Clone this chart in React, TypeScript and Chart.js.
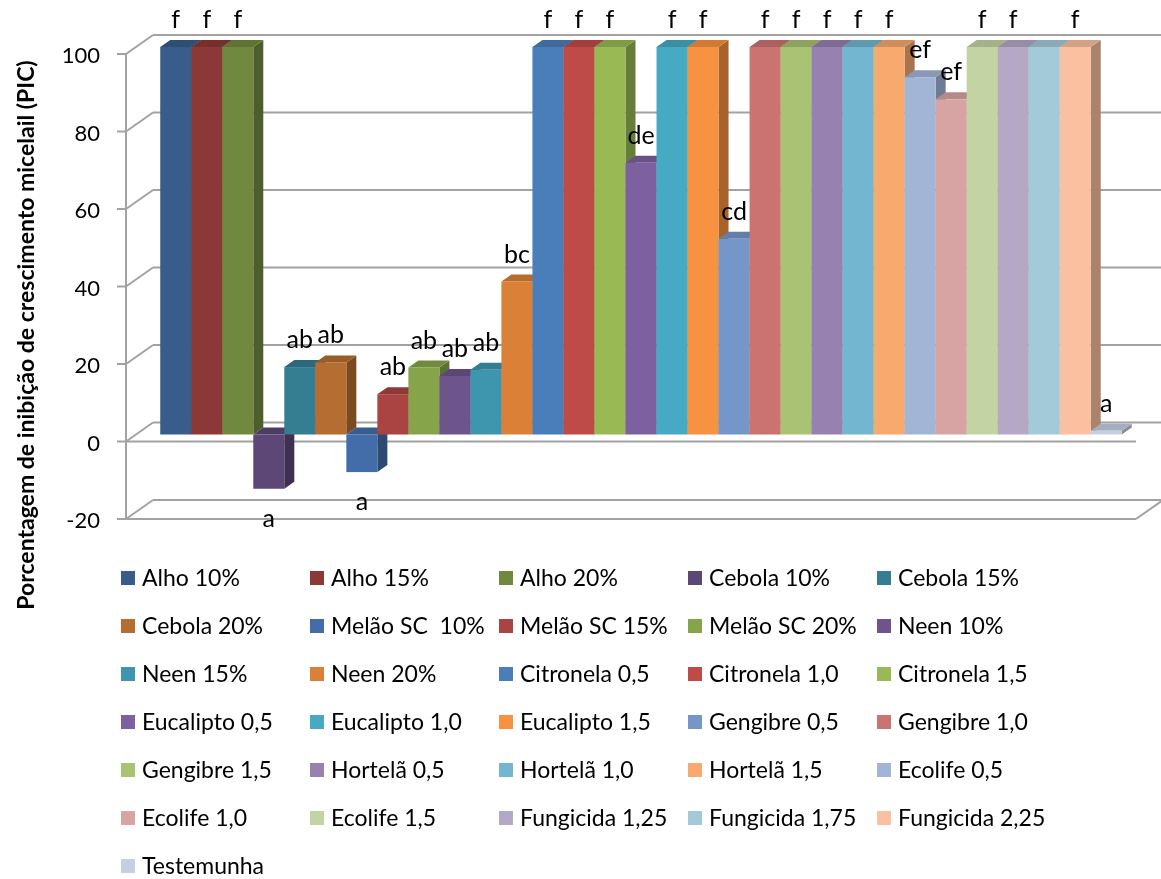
import { useEffect, useRef } from "react";
import { Chart, registerables } from "chart.js";

Chart.register(...registerables);

// Treatments (one column each)
const seriesNames = [
  "Alho 10%", "Alho 15%", "Alho 20%", "Cebola 10%", "Cebola 15%",
  "Cebola 20%", "Melão SC  10%", "Melão SC 15%", "Melão SC 20%", "Neen 10%",
  "Neen 15%", "Neen 20%", "Citronela 0,5", "Citronela 1,0", "Citronela 1,5",
  "Eucalipto 0,5", "Eucalipto 1,0", "Eucalipto 1,5", "Gengibre 0,5", "Gengibre 1,0",
  "Gengibre 1,5", "Hortelã 0,5", "Hortelã 1,0", "Hortelã 1,5", "Ecolife 0,5",
  "Ecolife 1,0", "Ecolife 1,5", "Fungicida 1,25", "Fungicida 1,75", "Fungicida 2,25",
  "Testemunha",
];

// PIC (%) per treatment
const seriesValues = [
  100, 100, 100, -14, 17.4,
  18.6, -9.7, 10.4, 17.3, 15.1,
  16.7, 39.5, 100, 100, 100,
  70.1, 100, 100, 50.5, 100,
  100, 100, 100, 100, 92.2,
  86.5, 100, 100, 100, 100,
  1,
];

// Significance letters shown at each column
const groupLetters = [
  "f", "f", "f", "a", "ab",
  "ab", "a", "ab", "ab", "ab",
  "ab", "bc", "f", "f", "f",
  "de", "f", "f", "cd", "f",
  "f", "f", "f", "f", "ef",
  "ef", "f", "f", "", "f",
  "a",
];

const seriesColors = [
  "#385d8a", "#8c3836", "#71893f", "#5c4776", "#357d91",
  "#b66d31", "#426da9", "#a94442", "#86a44a", "#6e548d",
  "#3d96ae", "#da8137", "#4a7ebb", "#be4b48", "#98b954",
  "#7d60a0", "#46aac5", "#f69240", "#7596c9", "#cb7371",
  "#aac274", "#9681b0", "#72b7cf", "#f8a96e", "#a3b5d6",
  "#d8a4a3", "#c3d3a4", "#b4a8c6", "#a3cad9", "#fac0a0",
  "#c5cfe2",
];

const yTicks = [-20, 0, 20, 40, 60, 80, 100];
const axisTitle = "Porcentagem de inibição de crescimento micelail (PIC)";

const FONT = "Lato, 'Open Sans', sans-serif";
const GRID = "#a2a2a2";
// projection of the full wall depth and of a column's placement/depth
const WALL_DX = 27;
const WALL_DY = -19;
const BAR_DX = 10;
const BAR_DY = -7;

function shade(hex: string, f: number): string {
  const n = parseInt(hex.slice(1), 16);
  const r = Math.round(((n >> 16) & 255) * f);
  const g = Math.round(((n >> 8) & 255) * f);
  const b = Math.round((n & 255) * f);
  return `rgb(${r},${g},${b})`;
}

function line(ctx: CanvasRenderingContext2D, x1: number, y1: number, x2: number, y2: number) {
  ctx.beginPath();
  ctx.moveTo(x1, y1);
  ctx.lineTo(x2, y2);
  ctx.stroke();
}

function poly(ctx: CanvasRenderingContext2D, pts: number[][], fill: string) {
  ctx.beginPath();
  ctx.moveTo(pts[0][0], pts[0][1]);
  for (let i = 1; i < pts.length; i++) ctx.lineTo(pts[i][0], pts[i][1]);
  ctx.closePath();
  ctx.fillStyle = fill;
  ctx.fill();
}

const column3d = {
  id: "column3d",
  beforeDatasetsDraw(chart: any) {
    const ctx: CanvasRenderingContext2D = chart.ctx;
    const { left, right } = chart.chartArea;
    const ys = chart.scales.y;
    ctx.save();
    ctx.strokeStyle = GRID;
    ctx.lineWidth = 2;
    ctx.lineCap = "butt";

    // side wall, back wall and tick marks
    for (const v of yTicks) {
      const py = ys.getPixelForValue(v);
      line(ctx, left, py, left + WALL_DX, py + WALL_DY);
      line(ctx, left + WALL_DX, py + WALL_DY, right + WALL_DX, py + WALL_DY);
      line(ctx, left - 9, py, left, py);
    }
    const pTop = ys.getPixelForValue(yTicks[yTicks.length - 1]);
    const pMin = ys.getPixelForValue(yTicks[0]);
    const p0 = ys.getPixelForValue(0);
    line(ctx, left, pTop, left, pMin);
    // floor edges
    line(ctx, left, p0, right, p0);
    line(ctx, left, pMin, right, pMin);
    line(ctx, right, pMin, right + WALL_DX, pMin + WALL_DY);

    // tick labels
    ctx.fillStyle = "#000";
    ctx.font = `22px ${FONT}`;
    ctx.textAlign = "right";
    ctx.textBaseline = "middle";
    for (const v of yTicks) {
      ctx.fillText(String(v), left - 26, ys.getPixelForValue(v) + 2);
    }

    // columns, left to right
    chart.data.datasets.forEach((ds: any, i: number) => {
      const el = chart.getDatasetMeta(i).data[0];
      if (!el) return;
      const { x, y, base, width } = el.getProps(["x", "y", "base", "width"], true);
      const l = x - width / 2 + BAR_DX;
      const r = x + width / 2 + BAR_DX;
      const t = Math.min(y, base) + BAR_DY;
      const b = Math.max(y, base) + BAR_DY;
      const c = ds.backgroundColor as string;
      poly(ctx, [[r, t], [r + BAR_DX, t + BAR_DY], [r + BAR_DX, b + BAR_DY], [r, b]], shade(c, 0.68));
      poly(ctx, [[l, t], [r, t], [r + BAR_DX, t + BAR_DY], [l + BAR_DX, t + BAR_DY]], shade(c, 0.84));
      ctx.fillStyle = c;
      ctx.fillRect(l, t, r - l, b - t);
    });

    // significance letters
    ctx.font = `25px ${FONT}`;
    ctx.textAlign = "center";
    ctx.textBaseline = "middle";
    ctx.fillStyle = "#000";
    chart.data.datasets.forEach((_ds: any, i: number) => {
      const txt = groupLetters[i];
      if (!txt) return;
      const el = chart.getDatasetMeta(i).data[0];
      const { x, y } = el.getProps(["x", "y"], true);
      const cx = x + BAR_DX;
      if (seriesValues[i] >= 0) ctx.fillText(txt, cx, y + BAR_DY - 27);
      else ctx.fillText(txt, cx, y + BAR_DY + 30);
    });

    ctx.restore();
    return false;
  },
  afterDraw(chart: any) {
    const ctx: CanvasRenderingContext2D = chart.ctx;
    ctx.save();
    // axis title
    ctx.fillStyle = "#000";
    ctx.font = `bold 23px ${FONT}`;
    ctx.textAlign = "center";
    ctx.textBaseline = "middle";
    ctx.translate(27, 335);
    ctx.rotate(-Math.PI / 2);
    ctx.fillText(axisTitle, 0, 0);
    ctx.restore();

    // legend grid, 5 columns
    ctx.save();
    ctx.font = `23px ${FONT}`;
    ctx.textAlign = "left";
    ctx.textBaseline = "middle";
    chart.data.datasets.forEach((ds: any, i: number) => {
      const col = i % 5;
      const row = Math.floor(i / 5);
      const x = 121 + col * 189;
      const yc = 578 + row * 48;
      ctx.fillStyle = ds.backgroundColor;
      ctx.fillRect(x, yc - 7, 14, 14);
      ctx.fillStyle = "#000";
      ctx.fillText(ds.label, x + 21, yc + 1);
    });
    ctx.restore();
  },
};

export default function App() {
  const canvasRef = useRef<HTMLCanvasElement | null>(null);

  useEffect(() => {
    if (!canvasRef.current) return;
    const chart = new Chart(canvasRef.current, {
      type: "bar",
      data: {
        labels: [""],
        datasets: seriesNames.map((name, i) => ({
          label: name,
          data: [seriesValues[i]],
          backgroundColor: seriesColors[i],
          categoryPercentage: 0.952,
          barPercentage: 1,
        })),
      },
      options: {
        responsive: false,
        animation: false,
        devicePixelRatio: 1,
        layout: { padding: { left: 126, right: 25, top: 54, bottom: 360 } },
        scales: {
          x: { display: false },
          y: { display: false, min: -20, max: 100 },
        },
        plugins: {
          legend: { display: false },
          tooltip: { enabled: false },
        },
      },
      plugins: [column3d],
    });
    return () => chart.destroy();
  }, []);

  return (
    <div style={{ position: "fixed", left: 0, top: 0, width: 1161, height: 879, background: "#fff" }}>
      <canvas ref={canvasRef} width={1161} height={879} style={{ display: "block" }} />
    </div>
  );
}
